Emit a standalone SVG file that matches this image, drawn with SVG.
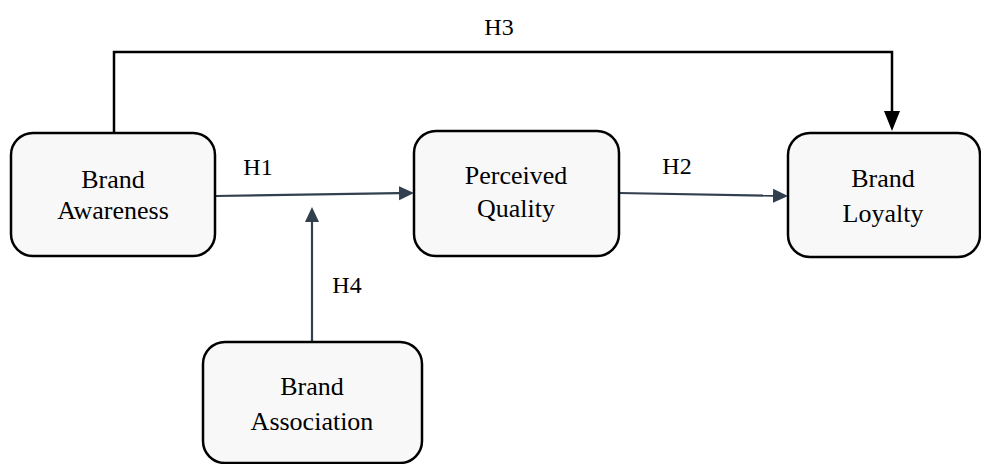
<svg xmlns="http://www.w3.org/2000/svg" width="981" height="464" viewBox="0 0 981 464">
<style>
.box{fill:#f8f8f8;stroke:#000;stroke-width:2.5}
.t{font-size:26px;fill:#000;text-anchor:middle}
.lbl{font-size:24px;fill:#000;text-anchor:middle}
.c{fill:none;stroke:#323f4f;stroke-width:2.2}
.k{fill:none;stroke:#000;stroke-width:2.5}
</style>
<defs>
<marker id="ah" markerUnits="userSpaceOnUse" markerWidth="16" markerHeight="16" viewBox="0 -8 16 16" refX="0" refY="0" orient="auto">
<path d="M0,-7 L15,0 L0,7 Z" fill="#323f4f"/>
</marker>
<marker id="ahk" markerUnits="userSpaceOnUse" markerWidth="22" markerHeight="18" viewBox="0 -9 22 18" refX="0" refY="0" orient="auto">
<path d="M0,-8 L20,0 L0,8 Z" fill="#000"/>
</marker>
</defs>
<g font-family="'Liberation Serif', 'Times New Roman', 'DejaVu Serif', serif">
<g id="connectors">
<path class="k" d="M114,133 V52 H892 V111" marker-end="url(#ahk)"/>
<path class="c" d="M215,196 L399,193.2" marker-end="url(#ah)"/>
<path class="c" d="M619,193 L773,195.7" marker-end="url(#ah)"/>
<path class="c" d="M312,342 V222" marker-end="url(#ah)"/>
<text class="lbl" x="499" y="35">H3</text>
<text class="lbl" x="258" y="175">H1</text>
<text class="lbl" x="677" y="174">H2</text>
<text class="lbl" x="347" y="293">H4</text>
</g>
<g id="brand-awareness">
<rect class="box" x="11" y="133" width="204" height="123" rx="22"/>
<text class="t" x="113" y="188">Brand</text>
<text class="t" x="113" y="219">Awareness</text>
</g>
<g id="perceived-quality">
<rect class="box" x="414" y="131" width="205" height="125" rx="22"/>
<text class="t" x="516" y="184">Perceived</text>
<text class="t" x="516" y="217">Quality</text>
</g>
<g id="brand-loyalty">
<rect class="box" x="788" y="133" width="192" height="124" rx="22"/>
<text class="t" x="883" y="187">Brand</text>
<text class="t" x="883" y="222">Loyalty</text>
</g>
<g id="brand-association">
<rect class="box" x="203" y="342" width="219" height="121" rx="22"/>
<text class="t" x="312" y="395">Brand</text>
<text class="t" x="312" y="430">Association</text>
</g>
</g>
</svg>
